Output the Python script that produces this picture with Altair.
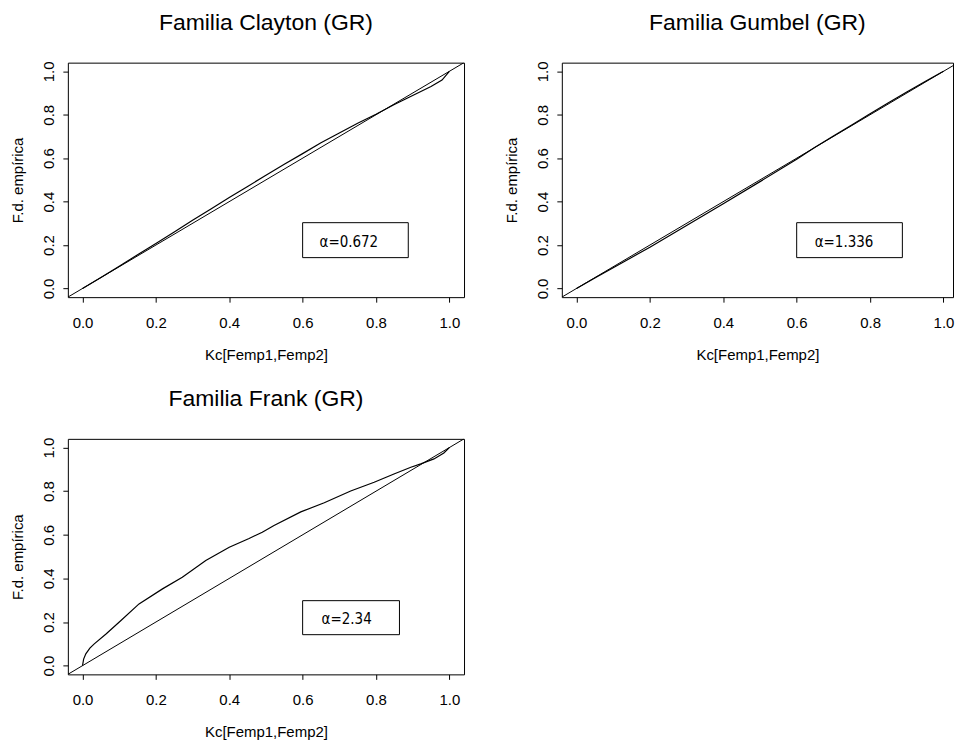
import altair as alt
import pandas as pd

# ---------------- data ----------------
tick_values = [0.0, 0.2, 0.4, 0.6, 0.8, 1.0]
axis_range = [-0.04, 1.04]

titles = ["Familia Clayton (GR)", "Familia Gumbel (GR)", "Familia Frank (GR)"]
alpha_labels = ["α=0.672", "α=1.336", "α=2.34"]

clayton_kc = [0.0, 0.05, 0.10, 0.15, 0.20, 0.25, 0.30, 0.35, 0.40, 0.45, 0.50,
              0.55, 0.60, 0.65, 0.70, 0.75, 0.80, 0.85, 0.90, 0.95, 0.98, 1.0]
clayton_fd = [0.0, 0.051, 0.102, 0.155, 0.207, 0.260, 0.314, 0.366, 0.419, 0.470, 0.521,
              0.572, 0.621, 0.671, 0.716, 0.761, 0.802, 0.847, 0.889, 0.930, 0.960, 1.0]

gumbel_kc = [0.0, 0.05, 0.10, 0.15, 0.20, 0.30, 0.40, 0.50, 0.60, 0.65, 0.70,
             0.75, 0.80, 0.85, 0.90, 0.95, 1.0]
gumbel_fd = [0.0, 0.048, 0.095, 0.143, 0.190, 0.290, 0.390, 0.492, 0.595, 0.650, 0.702,
             0.753, 0.805, 0.855, 0.905, 0.953, 1.0]

frank_kc = [0.0, 0.003, 0.009, 0.02, 0.032, 0.064, 0.104, 0.154, 0.218, 0.272, 0.336,
            0.40, 0.454, 0.49, 0.522, 0.595, 0.659, 0.731, 0.795, 0.849, 0.895,
            0.922, 0.958, 0.985, 1.0]
frank_fd = [0.0, 0.03, 0.054, 0.08, 0.10, 0.145, 0.206, 0.283, 0.352, 0.405, 0.482,
            0.543, 0.583, 0.612, 0.643, 0.705, 0.747, 0.801, 0.841, 0.879, 0.910,
            0.925, 0.948, 0.975, 1.0]

# legend boxes (data coordinates, like R's legend(x, y))
legend_x0 = [0.60, 0.60, 0.60]
legend_x1 = [0.888, 0.888, 0.864]
legend_y0 = [0.142, 0.142, 0.142]
legend_y1 = [0.303, 0.303, 0.298]
legend_tx = [0.726, 0.729, 0.72]
legend_ty = [0.215, 0.215, 0.216]

curves = [(clayton_kc, clayton_fd), (gumbel_kc, gumbel_fd), (frank_kc, frank_fd)]

FONT = "Liberation Sans"
NARROW = "'Liberation Sans Narrow', 'DejaVu Sans Condensed', 'Roboto Condensed', Roboto, sans-serif"


def panel(i, xmax=1.04, width=397, height=235):
    kc, fd = curves[i]
    x_scale = alt.Scale(domain=[axis_range[0], xmax], nice=False, zero=False)
    y_scale = alt.Scale(domain=axis_range, nice=False, zero=False)
    x_axis = alt.Axis(values=tick_values, format=".1f", title="Kc[Femp1,Femp2]")
    y_axis = alt.Axis(values=tick_values, format=".1f", title="F.d. empírica",
                      labelAngle=270, labelAlign="center", labelBaseline="bottom")

    diag_df = pd.DataFrame({"x": axis_range, "y": axis_range})
    diag = alt.Chart(diag_df).mark_line(color="black", strokeWidth=1, clip=True).encode(
        x=alt.X("x:Q", scale=x_scale, axis=x_axis),
        y=alt.Y("y:Q", scale=y_scale, axis=y_axis),
    )

    emp_df = pd.DataFrame({"x": kc, "y": fd})
    emp = alt.Chart(emp_df).mark_line(color="black", strokeWidth=1.2, clip=True).encode(
        x=alt.X("x:Q", scale=x_scale, axis=x_axis),
        y=alt.Y("y:Q", scale=y_scale, axis=y_axis),
    )

    leg_df = pd.DataFrame({
        "x0": [legend_x0[i]], "x1": [legend_x1[i]],
        "y0": [legend_y0[i]], "y1": [legend_y1[i]],
        "tx": [legend_tx[i]], "ty": [legend_ty[i]],
        "label": [alpha_labels[i]],
    })
    box = alt.Chart(leg_df).mark_rect(fill="white", stroke="black", strokeWidth=1).encode(
        x=alt.X("x0:Q", scale=x_scale, axis=x_axis), x2="x1:Q",
        y=alt.Y("y0:Q", scale=y_scale, axis=y_axis), y2="y1:Q",
    )
    txt = alt.Chart(leg_df).mark_text(
        font=NARROW, fontSize=15, color="black",
        align="center", baseline="middle",
    ).encode(
        x=alt.X("tx:Q", scale=x_scale, axis=x_axis),
        y=alt.Y("ty:Q", scale=y_scale, axis=y_axis),
        text="label:N",
    )

    return alt.layer(diag, emp, box, txt).properties(
        width=width, height=height,
        title=alt.TitleParams(titles[i], anchor="middle"),
    )


p1 = panel(0)
p2 = panel(1, xmax=1.026, width=392)
p3 = panel(2, height=236)

top = alt.hconcat(p1, p2, spacing=39)
chart = alt.vconcat(top, p3, spacing=24).properties(
    padding={"left": 10, "top": 10, "right": 0, "bottom": 0},
    background="white",
).configure_view(
    stroke="black", strokeWidth=1
).configure_axis(
    grid=False, domain=False,
    tickColor="black", tickSize=5, tickWidth=1,
    labelFont=FONT, labelFontSize=15, labelColor="black",
    titleFont=FONT, titleFontSize=15, titleColor="black", titleFontWeight="normal",
).configure_axisX(
    labelPadding=13, titlePadding=17,
).configure_axisY(
    labelPadding=6, titlePadding=16,
).configure_title(
    font=FONT, fontSize=23, fontWeight="normal", color="black", offset=26,
)

chart.save("out.html", embed_options={"renderer": "svg", "actions": False})
